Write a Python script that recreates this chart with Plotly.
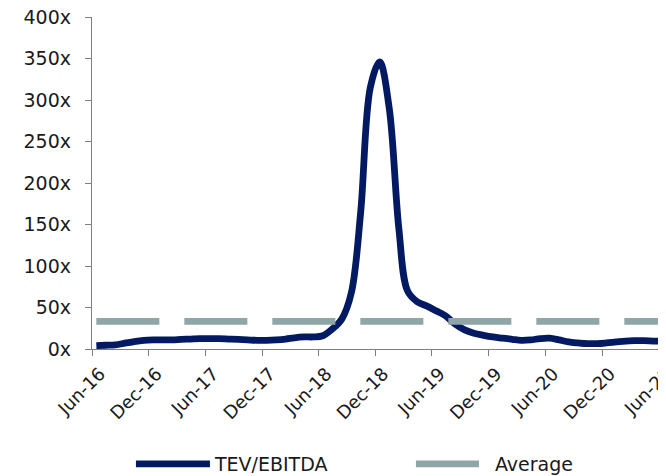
import plotly.graph_objects as go

# Monthly observations (mid-month), Jun-16 .. Jun-21
months = [f"{y}-{m:02d}-15" for y in range(2016, 2022) for m in range(1, 13)]
months = months[5:5 + 61]

tev_ebitda = [
    4, 4.5, 5, 7, 9, 10.5,            # Jun-16 .. Nov-16
    11, 11, 11, 11.5, 12, 12.5,       # Dec-16 .. May-17
    12.5, 12.5, 12, 11.5, 11, 10.5,   # Jun-17 .. Nov-17
    10.5, 11, 12, 13.5, 14.5, 14.5,   # Dec-17 .. May-18
    16, 24, 36, 68, 165, 315,         # Jun-18 .. Nov-18
    346, 290, 145, 70, 57, 52,        # Dec-18 .. May-19
    46, 40, 30, 23, 19, 16.5,         # Jun-19 .. Nov-19
    14.5, 13, 11.7, 10.5, 11, 12.5,   # Dec-19 .. May-20
    13, 11, 8.5, 7.3, 6.5, 6.5,       # Jun-20 .. Nov-20
    7.3, 8.5, 9.6, 10, 10, 9.6,       # Dec-20 .. May-21
    9.3,                              # Jun-21
]
average_value = 33.4
average = [average_value] * len(months)

tick_vals = ["2016-06-01", "2016-12-01", "2017-06-01", "2017-12-01", "2018-06-01",
             "2018-12-01", "2019-06-01", "2019-12-01", "2020-06-01", "2020-12-01",
             "2021-06-01"]
tick_text = ["Jun-16", "Dec-16", "Jun-17", "Dec-17", "Jun-18", "Dec-18",
             "Jun-19", "Dec-19", "Jun-20", "Dec-20", "Jun-21"]
y_tick_vals = [0, 50, 100, 150, 200, 250, 300, 350, 400]
y_tick_text = [f"{v}x" for v in y_tick_vals]

NAVY = "#031A62"
GRAY = "#8FA5A8"
AXIS = "#7F7F7F"
FONT = "DejaVu Sans"
TXT = "#1a1a1a"

fig = go.Figure()
fig.add_trace(go.Scatter(
    x=months, y=tev_ebitda, mode="lines", name="TEV/EBITDA",
    line=dict(color=NAVY, width=6.8, shape="spline", smoothing=1.0),
))
fig.add_trace(go.Scatter(
    x=months, y=average, mode="lines", name="Average",
    line=dict(color=GRAY, width=6.8, dash="63px,25px"),
))

# the page body has an 8px margin, so the figure is 8px smaller than the window
fig.update_layout(
    width=658, height=468,
    margin=dict(l=84, r=0, t=9, b=127, autoexpand=False),
    paper_bgcolor="white", plot_bgcolor="white",
    font=dict(family=FONT, size=19, color=TXT),
    showlegend=True,
    legend=dict(
        orientation="h", x=-0.0001, xanchor="left", y=-0.3464, yanchor="middle",
        indentation=39, itemwidth=74, entrywidth=152,
        font=dict(family=FONT, size=19, color=TXT),
        bgcolor="rgba(0,0,0,0)",
    ),
    xaxis=dict(
        type="date", range=["2016-06-01", "2021-06-25"],
        tickmode="array", tickvals=tick_vals, ticktext=tick_text,
        tickangle=-45, ticks="outside", ticklen=6, tickcolor=AXIS, tickwidth=1.3,
        showline=True, linecolor=AXIS, linewidth=1.3, showgrid=False, zeroline=False,
        tickfont=dict(family=FONT, size=18, color=TXT), automargin=False,
        ticklabeloverflow="allow", ticklabelshift=8,
    ),
    yaxis=dict(
        range=[0, 400], tickmode="array", tickvals=y_tick_vals, ticktext=y_tick_text,
        ticks="outside", ticklen=6, tickcolor=AXIS, tickwidth=1.3,
        showline=True, linecolor=AXIS, linewidth=1.3, showgrid=False, zeroline=False,
        tickfont=dict(family=FONT, size=19, color=TXT), automargin=False,
        ticklabeloverflow="allow", ticklabelstandoff=10,
    ),
)

fig.write_html("out.html")
